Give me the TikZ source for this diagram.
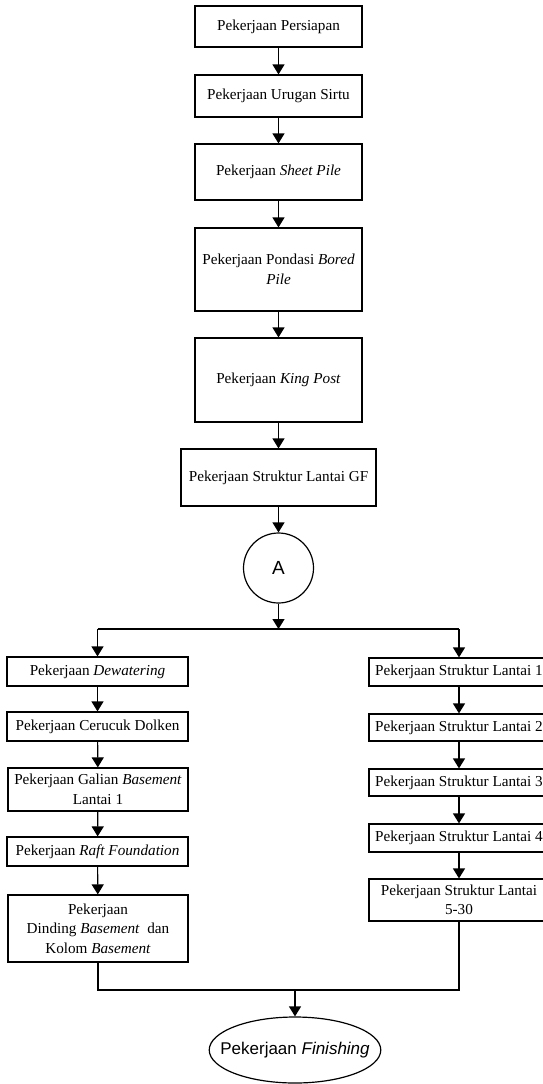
\documentclass[tikz,border=0pt]{standalone}
\usepackage{fontspec}
\setmainfont{Liberation Serif}
\newfontfamily\arialf{Liberation Sans}
\usetikzlibrary{arrows.meta,shapes.geometric}
\begin{document}
\begin{tikzpicture}[x=1pt,y=-1pt,
  box/.style={draw,line width=1.2pt,rectangle,inner sep=0pt,align=center,
    font=\fontsize{15.2}{19.5}\selectfont},
  arr/.style={line width=1.2pt,-{Triangle[width=12pt,length=10pt]}},
  ln/.style={line width=1.2pt}]
\useasboundingbox (0,0) rectangle (542,1084);
% top column
\node[box,minimum width=167pt,minimum height=41pt] (b1) at (278.5,26.5) {Pekerjaan Persiapan};
\node[box,minimum width=167pt,minimum height=42pt] (b2) at (278.5,96) {Pekerjaan Urugan Sirtu};
\node[box,minimum width=167pt,minimum height=56pt] (b3) at (278.5,172) {Pekerjaan \textit{Sheet Pile}};
\node[box,minimum width=167pt,minimum height=83pt] (b4) at (278.5,269.5) {Pekerjaan Pondasi \textit{Bored}\\\textit{Pile}};
\node[box,minimum width=167pt,minimum height=84pt] (b5) at (278.5,380) {Pekerjaan \textit{King Post}};
\node[box,minimum width=195pt,minimum height=57pt] (b6) at (278.5,477.5) {Pekerjaan Struktur Lantai GF};
\node[draw,line width=1.2pt,circle,minimum size=70pt,inner sep=0pt,font=\arialf\fontsize{19}{21}\selectfont] (A) at (278.5,568) {A};
% split
\coordinate (sl) at (97.5,629);
\coordinate (sm) at (278.5,629);
\coordinate (sr) at (459,629);
% left column
\node[box,minimum width=181pt,minimum height=29pt] (l1) at (97.5,671.5) {Pekerjaan \textit{Dewatering}};
\node[box,minimum width=181pt,minimum height=29pt] (l2) at (97.5,726.5) {Pekerjaan Cerucuk Dolken};
\node[box,minimum width=180pt,minimum height=43pt] (l3) at (98,789.5) {Pekerjaan Galian \textit{Basement}\\Lantai 1};
\node[box,minimum width=181pt,minimum height=29pt] (l4) at (97.5,851.5) {Pekerjaan \textit{Raft Foundation}};
\node[box,minimum width=180pt,minimum height=67pt] (l5) at (98,928.5) {Pekerjaan\\Dinding \textit{Basement}\ \ dan\\Kolom \textit{Basement}};
% right column
\node[box,minimum width=180pt,minimum height=28pt] (r1) at (459,672) {Pekerjaan Struktur Lantai 1};
\node[box,minimum width=180pt,minimum height=27pt] (r2) at (459,727.5) {Pekerjaan Struktur Lantai 2};
\node[box,minimum width=180pt,minimum height=27pt] (r3) at (459,782.5) {Pekerjaan Struktur Lantai 3};
\node[box,minimum width=180pt,minimum height=28pt] (r4) at (459,838) {Pekerjaan Struktur Lantai 4};
\node[box,minimum width=180pt,minimum height=42pt] (r5) at (459,900) {Pekerjaan Struktur Lantai\\5-30};
% finish
\node[draw,line width=1.2pt,ellipse,minimum width=166pt,minimum height=66pt,inner xsep=-14pt,inner ysep=0pt,font=\arialf\fontsize{17}{19}\selectfont] (fin) at (295,1050) {Pekerjaan \textit{Finishing}};
\coordinate (ml) at (98,990);
\coordinate (mr) at (459,990);
% connectors
\draw[arr] (b1) -- (b2);
\draw[arr] (b2) -- (b3);
\draw[arr] (b3) -- (b4);
\draw[arr] (b4) -- (b5);
\draw[arr] (b5) -- (b6);
\draw[arr] (b6) -- (A);
\draw[arr] (A) -- (sm);
\draw[ln] (sl) -- (sr);
\draw[arr] (sl) -- (l1);
\draw[arr] (sr) -- (r1);
\draw[arr] (l1) -- (l2);
\draw[arr] (l2) -- (l3);
\draw[arr] (l3) -- (l4);
\draw[arr] (l4) -- (l5);
\draw[arr] (r1) -- (r2);
\draw[arr] (r2) -- (r3);
\draw[arr] (r3) -- (r4);
\draw[arr] (r4) -- (r5);
\draw[ln] (l5.south) -- (ml) -- (mr) -- (r5.south);
\draw[arr] (fin.north |- ml) -- (fin.north);
\end{tikzpicture}
\end{document}
